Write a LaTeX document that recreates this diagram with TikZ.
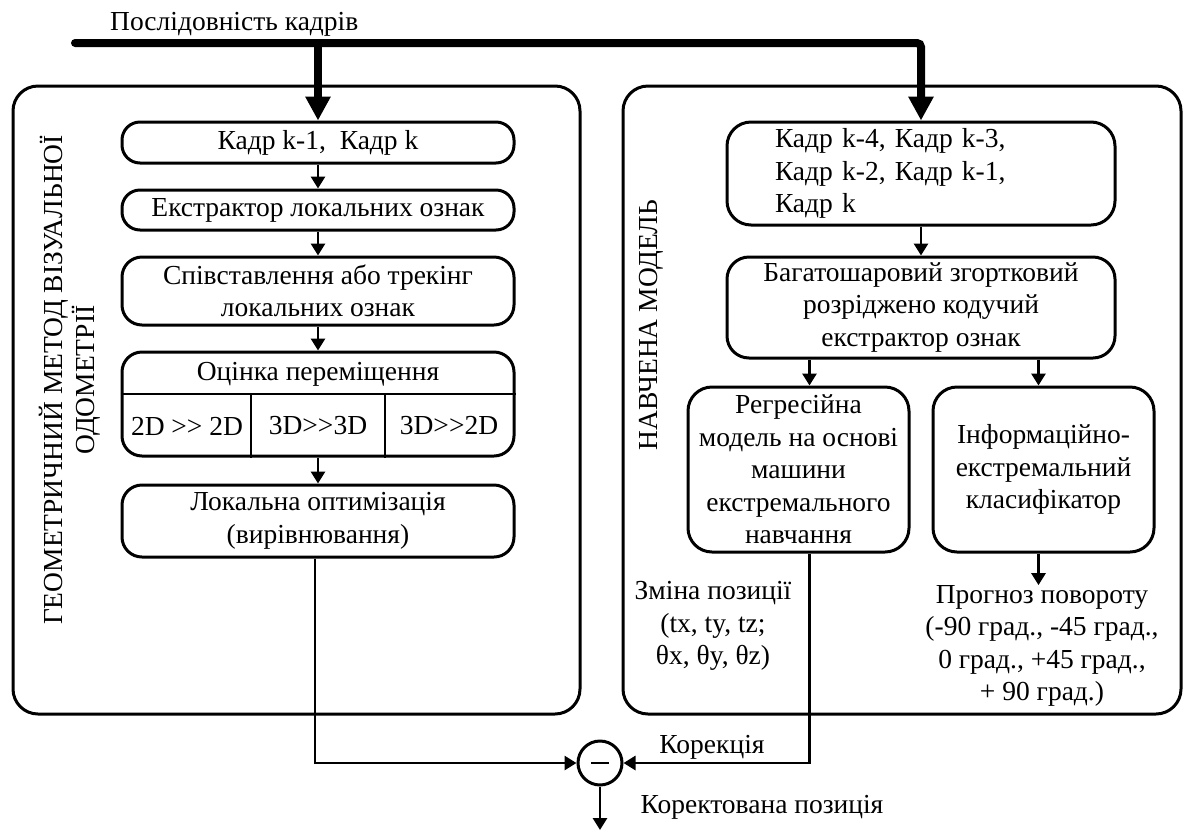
\documentclass[tikz,border=0pt]{standalone}
\usepackage{fontspec}
\setmainfont{Liberation Serif}
\usetikzlibrary{arrows.meta,calc}

\begin{document}
\begin{tikzpicture}[x=1pt,y=-1pt,
  font=\fontsize{27.5}{32.5}\selectfont,
  box/.style={draw, line width=3pt, rounded corners=18pt, align=center, inner sep=0pt},
  frame/.style={draw, line width=3pt, rounded corners=25pt, inner sep=0pt},
  conn/.style={line width=2.8pt, -{Triangle[length=12pt,width=14pt]}},
  wire/.style={line width=2.8pt},
  bus/.style={line width=8pt, rounded corners=4pt, -{Triangle[length=24pt,width=24pt]}},
  lbl/.style={align=center, inner sep=0pt},
]
\useasboundingbox (0,0) rectangle (1187,831);

% input sequence caption
\node[lbl, anchor=base west] (seq) at (110,30) {Послідовність кадрів};

% ---- left block: geometric visual odometry ----
\node[frame, minimum width=567pt, minimum height=628pt] (geo) at (296.5,400) {};
\node[lbl, rotate=90] (geot) at (70,380) {ГЕОМЕТРИЧНИЙ МЕТОД ВІЗУАЛЬНОЇ\\ОДОМЕТРІЇ};

\node[box, minimum width=392pt, minimum height=41pt] (L1) at (318,142.5) {Кадр k-1,~ Кадр k};
\node[box, minimum width=392pt, minimum height=40pt] (L2) at (318,210) {Екстрактор локальних ознак};
\node[box, rounded corners=20pt, minimum width=392pt, minimum height=68pt] (L3) at (318,291) {Співставлення або трекінг\\локальних ознак};
\node[box, rounded corners=20pt, minimum width=392pt, minimum height=104pt] (L4) at (318,404) {};
\node[lbl] (L4t) at (318,374) {Оцінка переміщення};
\node[lbl] (c1) at (187,426) {2D >\kern0pt> 2D};
\node[lbl] (c2) at (318,426) {3D>\kern0pt>3D};
\node[lbl] (c3) at (449,426) {3D>\kern0pt>2D};
\coordinate (hdiv) at (0,394);
\coordinate (v1) at (251,394);
\coordinate (v2) at (385,394);
\draw[wire] (L4.west |- hdiv) -- (L4.east |- hdiv);
\draw[wire] (v1) -- (v1 |- L4.south);
\draw[wire] (v2) -- (v2 |- L4.south);
\node[box, rounded corners=20pt, minimum width=392pt, minimum height=72pt] (L5) at (318,521) {Локальна оптимізація\\(вирівнювання)};

% ---- right block: trained model ----
\node[frame, minimum width=558pt, minimum height=628pt] (nn) at (902,400) {};
\node[lbl, rotate=90] (nnt) at (651,325) {НАВЧЕНА МОДЕЛЬ};

\node[box, rounded corners=24pt, minimum width=388pt, minimum height=103pt, text width=292pt, align=left, inner xsep=48pt] (R1) at (921,173.5) {Кадр k-4, Кадр k-3,\\Кадр k-2, Кадр k-1,\\Кадр k};
\node[box, rounded corners=22pt, minimum width=388pt, minimum height=101pt] (R2) at (921,307.5) {Багатошаровий згортковий\\розріджено кодучий\\екстрактор ознак};
\node[box, rounded corners=24pt, minimum width=221pt, minimum height=165pt] (R3) at (798.5,469.5) {Регресійна\\модель на основі\\машини\\екстремального\\навчання};
\node[box, rounded corners=24pt, minimum width=221pt, minimum height=165pt] (R4) at (1043.5,469.5) {Інформаційно-\\екстремальний\\класифікатор};

\node[lbl] (dpos) at (713,626) {Зміна позиції\\(tx, ty, tz;\\θx, θy, θz)};
\node[lbl] (pred) at (1042,646) {Прогноз повороту\\(-90 град., -45 град.,\\0 град., +45 град.,\\+ 90 град.)};

% ---- correction ----
\node[circle, draw, line width=3pt, minimum size=44pt, inner sep=0pt] (sum) at (600,763) {};
\draw[line width=2.5pt] ([xshift=-9pt]sum.center) -- ([xshift=9pt]sum.center);
\node[lbl] (corr) at (712,747) {Корекція};
\node[lbl] (cpos) at (762,807) {Коректована позиція};
\coordinate (out) at (600,830);

% ---- frame sequence bus ----
\coordinate (busL) at (75,43);
\coordinate (busR) at (R1.north |- busL);
\coordinate (busJ) at (L1.north |- busL);
\draw[bus, line cap=round] (busL) -- (busR) -- (R1.north);
\draw[bus] (busJ) -- (L1.north);

% ---- connectors ----
\draw[conn] (L1.south) -- (L2.north);
\draw[conn] (L2.south) -- (L3.north);
\draw[conn] (L3.south) -- (L4.north);
\draw[conn] (L4.south) -- (L5.north);
\coordinate (l5out) at ([xshift=-3pt]L5.south);
\draw[conn] (l5out) |- (sum.west);

\draw[conn] (R1.south) -- (R2.north);
\coordinate (r3in) at ([xshift=11pt]R3.north);
\coordinate (r4in) at ([xshift=-5pt]R4.north);
\draw[conn] (r3in |- R2.south) -- (r3in);
\draw[conn] (r4in |- R2.south) -- (r4in);
\coordinate (r4out) at ([xshift=-5pt]R4.south);
\draw[conn] (r4out) -- (r4out |- pred.north);
\coordinate (r3out) at ([xshift=11pt]R3.south);
\draw[conn] (r3out) |- (sum.east);
\draw[conn] (sum.south) -- (out);
\end{tikzpicture}
\end{document}
